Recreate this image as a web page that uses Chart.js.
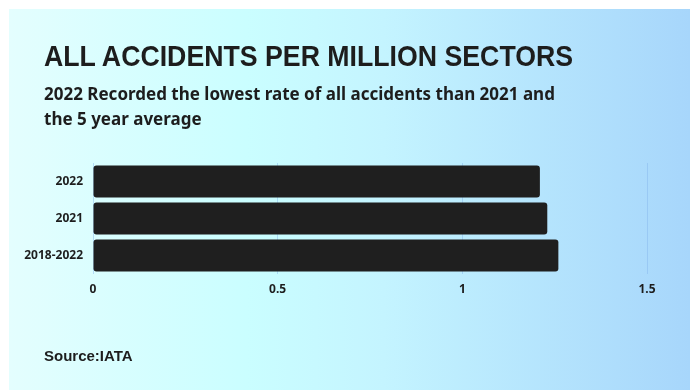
<!DOCTYPE html>
<html>
<head>
<meta charset="utf-8">
<script src="https://cdn.jsdelivr.net/npm/chart.js@4"></script>
<style>
  html, body { margin: 0; padding: 0; background: #fff; }
  body { width: 696px; height: 390px; overflow: hidden; position: relative; }
  #panel {
    position: absolute; left: 9px; top: 9px; width: 681px; height: 381px;
    background: linear-gradient(90deg, #e4fefe 0%, #cafeff 35%, #c4f4ff 55%, #a7d6fb 100%);
  }
  #title {
    position: absolute; left: 35px; top: 30px; margin: 0;
    font-family: "Liberation Sans", Arial, sans-serif; font-weight: 700;
    font-size: 30px; color: #1d1d1d; white-space: nowrap;
    transform: scaleX(0.89); transform-origin: left top;
  }
  #subtitle {
    position: absolute; left: 35px; top: 72px; margin: 0;
    font-family: "Noto Sans", sans-serif; font-weight: 700;
    font-size: 17px; line-height: 25px; color: #1d1d1d;
  }
  #source {
    position: absolute; left: 35px; top: 338px; margin: 0;
    font-family: "Liberation Sans", Arial, sans-serif; font-weight: 700;
    font-size: 15px; color: #1d1d1d;
  }
  #wrap { position: absolute; left: 0; top: 0; width: 681px; height: 381px; }
</style>
</head>
<body>
<div id="panel">
  <div id="wrap"><canvas id="chart"></canvas></div>
  <p id="title">ALL ACCIDENTS PER MILLION SECTORS</p>
  <p id="subtitle">2022 Recorded the lowest rate of all accidents than 2021 and<br>the 5 year average</p>
  <p id="source">Source:IATA</p>
</div>
<script>
const categories = ["2022", "2021", "2018-2022"];
const accidentRates = [1.21, 1.23, 1.26];
const xTicks = [0, 0.5, 1, 1.5];
const xTickLabels = ["0", "0.5", "1", "1.5"];

const elem = document.getElementById("chart").getContext("2d");

const newChart = new Chart(elem, {
    type: "bar",
    data: {
        labels: categories,
        datasets: [{
            data: accidentRates,
            backgroundColor: "#1f1f1f",
            borderRadius: 3,
            borderSkipped: false,
            categoryPercentage: 1,
            barPercentage: 0.86
        }]
    },
    options: {
        indexAxis: "y",
        responsive: true,
        maintainAspectRatio: false,
        animation: false,
        layout: { padding: { top: 154, right: 43, bottom: 92, left: 0 } },
        plugins: {
            legend: { display: false },
            tooltip: { enabled: false }
        },
        scales: {
            x: {
                min: 0,
                max: 1.5,
                afterBuildTicks: (scale) => {
                    scale.ticks = xTicks.map((v) => ({ value: v }));
                },
                afterFit: (scale) => { scale.height = 24; },
                border: { display: false },
                grid: { color: "rgba(130,180,235,0.45)", drawTicks: false },
                ticks: {
                    padding: 8,
                    color: "#1d1d1d",
                    font: { family: "'Noto Sans', sans-serif", size: 12, weight: "bold" },
                    callback: (value, i) => xTickLabels[i]
                }
            },
            y: {
                afterFit: (scale) => { scale.width = 84; },
                border: { display: false },
                grid: { display: false, drawTicks: false },
                ticks: {
                    padding: 10,
                    color: "#1d1d1d",
                    font: { family: "'Noto Sans', sans-serif", size: 12, weight: "bold" }
                }
            }
        }
    }
});
</script>
</body>
</html>
